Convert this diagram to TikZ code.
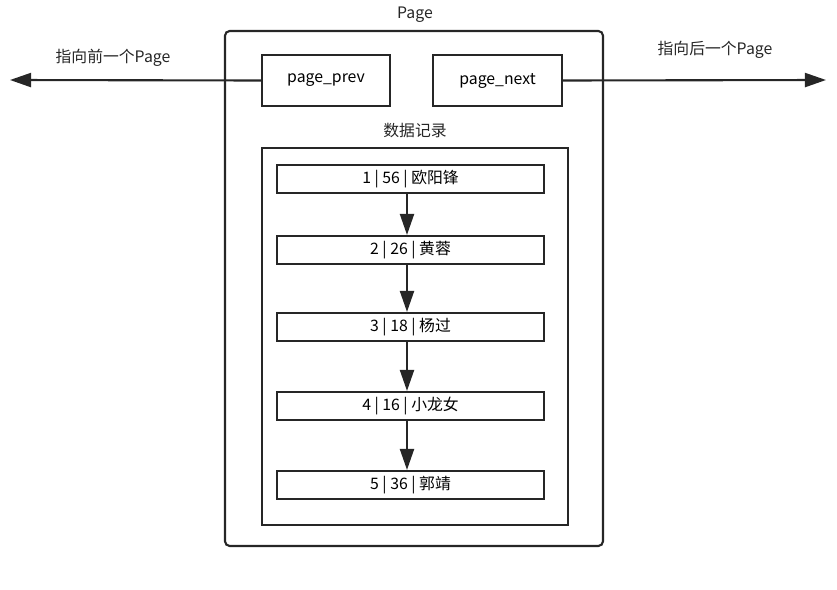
\documentclass[tikz,border=0pt]{standalone}
\usepackage{fontspec}
\setmainfont{Noto Sans CJK SC}
\usetikzlibrary{arrows.meta}
\begin{document}
\begin{tikzpicture}[x=0.03cm,y=-0.03cm,
  box/.style={draw=black!85,line width=1.8pt,inner sep=0pt,font=\fontsize{13.5}{16}\selectfont},
  rec/.style={box,minimum width=267*0.03cm,minimum height=28*0.03cm},
  lbl/.style={font=\fontsize{13.5}{16}\selectfont,text=black!85},
  arr/.style={draw=black!85,line width=1.8pt,-{Triangle[length=18pt,width=12pt]}}]
\useasboundingbox (0,0) rectangle (837,590);
\node[box,rounded corners=4pt,minimum width=378*0.03cm,minimum height=515*0.03cm] (page) at (414,288.5) {};
\node[lbl] (pt) at (415,15) {Page};
\node[box,minimum width=128*0.03cm,minimum height=51*0.03cm] (prev) at (326,80.5) {page\_prev};
\node[box,minimum width=129*0.03cm,minimum height=51*0.03cm] (next) at (497.5,80.5) {page\_next};
\coordinate (le) at (10,80);
\coordinate (re) at (826,80);
\draw[arr] (prev.west) -- (le);
\draw[arr] (next.east) -- (re);
\node[lbl] (lt) at (113,58) {指向前一个Page};
\node[lbl] (rt) at (715,50) {指向后一个Page};
\node[lbl] (dt) at (415,131) {数据记录};
\node[box,minimum width=306*0.03cm,minimum height=377*0.03cm] (inner) at (415,336.5) {};
\node[rec] (r1) at (410.5,179) {1 | 56 | 欧阳锋};
\node[rec] (r2) at (410.5,250) {2 | 26 | 黄蓉};
\node[rec] (r3) at (410.5,327) {3 | 18 | 杨过};
\node[rec] (r4) at (410.5,406) {4 | 16 | 小龙女};
\node[rec] (r5) at (410.5,485) {5 | 36 | 郭靖};
\foreach \a/\b in {r1/r2,r2/r3,r3/r4,r4/r5}
  \draw[arr] ([xshift=-3.5*0.03cm]\a.south) -- ([xshift=-3.5*0.03cm]\b.north);
\end{tikzpicture}
\end{document}
